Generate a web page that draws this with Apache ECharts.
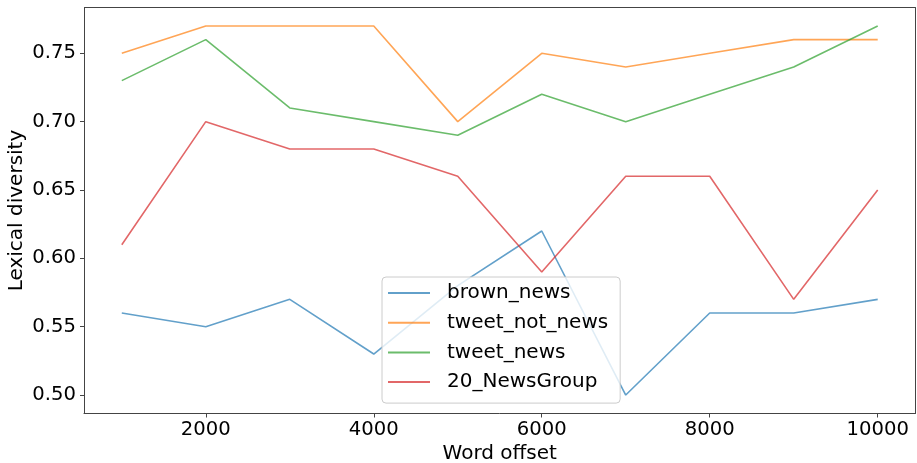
<!DOCTYPE html>
<html>
<head>
<meta charset="utf-8">
<script src="https://cdn.jsdelivr.net/npm/echarts@6/dist/echarts.min.js"></script>
<style>html,body{margin:0;padding:0;background:#fff;}#c{width:917px;height:463px;}</style>
</head>
<body>
<div id="c"></div>
<script>
const wordOffsets = [1000, 2000, 3000, 4000, 5000, 6000, 7000, 8000, 9000, 10000];
const brownNews = [0.56, 0.55, 0.57, 0.53, 0.58, 0.62, 0.50, 0.56, 0.56, 0.57];
const tweetNotNews = [0.75, 0.77, 0.77, 0.77, 0.70, 0.75, 0.74, 0.75, 0.76, 0.76];
const tweetNews = [0.73, 0.76, 0.71, 0.70, 0.69, 0.72, 0.70, 0.72, 0.74, 0.77];
const newsGroup20 = [0.61, 0.70, 0.68, 0.68, 0.66, 0.59, 0.66, 0.66, 0.57, 0.65];
const seriesNames = ['brown_news', 'tweet_not_news', 'tweet_news', '20_NewsGroup'];
const seriesValues = [brownNews, tweetNotNews, tweetNews, newsGroup20];
const xTicks = [2000, 4000, 6000, 8000, 10000];
const yTicks = [0.50, 0.55, 0.60, 0.65, 0.70, 0.75];

const colors = ['rgba(31,119,180,0.7)', 'rgba(255,127,14,0.7)', 'rgba(44,160,44,0.7)', 'rgba(214,39,40,0.7)'];
const FONT = 'DejaVu Sans';
const FS = 20;
const TXT = '#000';

const chart = echarts.init(document.getElementById('c'), null, {renderer: 'canvas'});
chart.setOption({
  animation: false,
  backgroundColor: '#fff',
  grid: {left: 84, right: 1.5, top: 7.5, bottom: 49.5, containLabel: false, outerBoundsMode: 'none'},
  xAxis: {
    type: 'value', min: 550, max: 10450,
    name: 'Word offset', nameLocation: 'middle', nameGap: 30, nameMoveOverlap: false,
    nameTextStyle: {fontFamily: FONT, fontSize: FS, color: TXT},
    axisLine: {show: true, onZero: false, lineStyle: {color: '#444', width: 1}},
    axisTick: {show: true, length: 4, lineStyle: {color: '#444'}, customValues: xTicks},
    axisLabel: {fontFamily: FONT, fontSize: 19.6, color: TXT, margin: 6, customValues: xTicks,
      formatter: v => String(Math.round(v))},
    splitLine: {show: false}
  },
  yAxis: {
    type: 'value', min: 0.4865, max: 0.7835,
    name: 'Lexical diversity', nameLocation: 'middle', nameGap: 57, nameMoveOverlap: false,
    nameTextStyle: {fontFamily: FONT, fontSize: FS, color: TXT},
    axisLine: {show: true, lineStyle: {color: '#444', width: 1}},
    axisTick: {show: true, length: 4, lineStyle: {color: '#444'}, customValues: yTicks},
    axisLabel: {fontFamily: FONT, fontSize: 19.6, color: TXT, margin: 8, customValues: yTicks,
      formatter: v => v.toFixed(2)},
    splitLine: {show: false}
  },
  graphic: [{
    type: 'rect', shape: {x: 915.5, y: 7.5, width: 0, height: 406}, silent: true, z: 10,
    style: {stroke: '#444', lineWidth: 1, fill: null}
  }, {
    type: 'rect', shape: {x: 84, y: 7.5, width: 831.5, height: 0}, silent: true, z: 10,
    style: {stroke: '#444', lineWidth: 1, fill: null}
  }],
  legend: {
    left: 382, top: 277, orient: 'vertical',
    padding: [6, 12, 11, 6],
    itemGap: 9.7, itemWidth: 42, itemHeight: 2, icon: 'rect',
    backgroundColor: 'rgba(255,255,255,0.8)', borderColor: '#ccc', borderWidth: 1, borderRadius: 4,
    textStyle: {fontFamily: FONT, fontSize: FS, color: TXT, lineHeight: 20, padding: [0, 0, 0, 12]},
    data: seriesNames
  },
  series: seriesNames.map((n, i) => ({
    name: n, type: 'line', symbol: 'none', color: colors[i],
    lineStyle: {width: 1.6, color: colors[i]},
    data: wordOffsets.map((x, j) => [x, seriesValues[i][j]])
  }))
});
</script>
</body>
</html>
